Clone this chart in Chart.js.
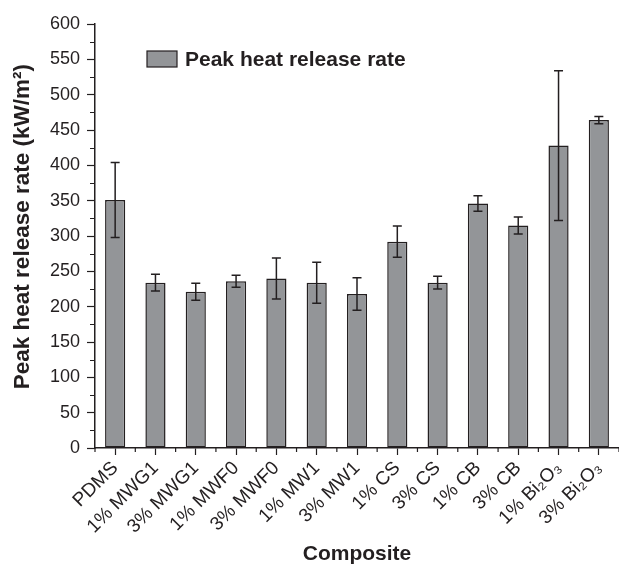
<!DOCTYPE html>
<html>
<head>
<meta charset="utf-8">
<script src="https://cdn.jsdelivr.net/npm/chart.js@4/dist/chart.umd.min.js"></script>
<style>
  body { margin: 0; background: #fff; }
  canvas { display: block; }
</style>
</head>
<body>
<canvas id="chart" width="619" height="565"></canvas>
<script>
// 카테고리, 값, 오차
const categories = ['PDMS', '1% MWG1', '3% MWG1', '1% MWF0', '3% MWF0', '1% MW1', '3% MW1',
                    '1% CS', '3% CS', '1% CB', '3% CB', '1% Bi₂O₃', '3% Bi₂O₃'];
const peakHRR = [351, 234, 221, 236, 240, 234, 218, 292, 234, 346, 315, 428, 464];
const peakErr = [53, 12, 12, 8.5, 29, 29, 23, 22, 9, 11, 12, 106, 5];
const yTicks = [0, 50, 100, 150, 200, 250, 300, 350, 400, 450, 500, 550, 600];

const FONT = '"Liberation Sans", Arial, Helvetica, sans-serif';
const INK = '#231f20';
const FILL = '#939598';

// 오차 막대
const errorBars = {
  id: 'errorBars',
  afterDatasetsDraw(chart) {
    const ctx = chart.ctx;
    const y = chart.scales.y;
    const meta = chart.getDatasetMeta(0);
    ctx.save();
    ctx.strokeStyle = INK;
    ctx.lineWidth = 1.5;
    meta.data.forEach((bar, i) => {
      const top = y.getPixelForValue(peakHRR[i] + peakErr[i]);
      const bot = y.getPixelForValue(peakHRR[i] - peakErr[i]);
      ctx.beginPath();
      ctx.moveTo(bar.x, top); ctx.lineTo(bar.x, bot);
      ctx.moveTo(bar.x - 4.5, top); ctx.lineTo(bar.x + 4.5, top);
      ctx.moveTo(bar.x - 4.5, bot); ctx.lineTo(bar.x + 4.5, bot);
      ctx.stroke();
    });
    ctx.restore();
  }
};

// 보조 눈금 + 범례
const extras = {
  id: 'extras',
  afterDraw(chart) {
    const ctx = chart.ctx;
    const { x, y } = chart.scales;
    const area = chart.chartArea;
    ctx.save();
    ctx.strokeStyle = INK;
    ctx.lineWidth = 1.2;
    ctx.beginPath();
    for (let v = 25; v < 600; v += 50) {
      const py = Math.round(y.getPixelForValue(v)) + 0.5;
      ctx.moveTo(area.left - 5, py); ctx.lineTo(area.left, py);
    }
    for (let i = 0; i <= categories.length; i++) {
      const px = (x.getPixelForValue(i - 1) + x.getPixelForValue(i)) / 2;
      ctx.moveTo(px, area.bottom); ctx.lineTo(px, area.bottom + 4);
    }
    ctx.stroke();

    // 범례
    const ds = chart.data.datasets[0];
    ctx.fillStyle = ds.backgroundColor;
    ctx.fillRect(147, 51, 30, 16);
    ctx.lineWidth = 1.2;
    ctx.strokeRect(147, 51, 30, 16);
    ctx.fillStyle = INK;
    ctx.font = 'bold 21px ' + FONT;
    ctx.textBaseline = 'middle';
    ctx.fillText(ds.label, 185, 60);
    ctx.restore();
  }
};

new Chart(document.getElementById('chart'), {
  type: 'bar',
  data: {
    labels: categories,
    datasets: [{
      label: 'Peak heat release rate',
      data: peakHRR,
      backgroundColor: FILL,
      borderColor: INK,
      borderWidth: 1.5,
      borderSkipped: false,
      barPercentage: 0.5,
      categoryPercentage: 1
    }]
  },
  options: {
    responsive: false,
    animation: false,
    layout: { padding: { top: 24, right: 0, left: 0, bottom: 0 } },
    plugins: { legend: { display: false }, tooltip: { enabled: false } },
    scales: {
      x: {
        offset: true,
        grid: { display: true, drawOnChartArea: false, offset: false, tickLength: 7, tickColor: INK, tickWidth: 1.2 },
        border: { display: true, color: INK, width: 1.5 },
        ticks: { color: INK, maxRotation: 45, minRotation: 45, padding: 2, font: { family: FONT, size: 19 } },
        title: { display: true, text: 'Composite', color: INK, padding: { top: 0, bottom: 0 },
                 font: { family: FONT, size: 21, weight: 'bold', lineHeight: 1 } },
        afterFit(scale) { scale.height = 117; }
      },
      y: {
        min: 0,
        max: 600,
        afterBuildTicks(scale) { scale.ticks = yTicks.map(v => ({ value: v })); },
        grid: { display: true, drawOnChartArea: false, tickLength: 8, tickColor: INK, tickWidth: 1.2 },
        border: { display: true, color: INK, width: 1.5 },
        ticks: { color: INK, padding: 7, font: { family: FONT, size: 18 } },
        title: { display: true, text: '   Peak heat release rate (kW/m²)', color: INK, padding: { top: 12, bottom: 0 },
                 font: { family: FONT, size: 22.5, weight: 'bold', lineHeight: 1 } },
        afterFit(scale) { scale.width = 95; }
      }
    }
  },
  plugins: [errorBars, extras]
});
</script>
</body>
</html>
